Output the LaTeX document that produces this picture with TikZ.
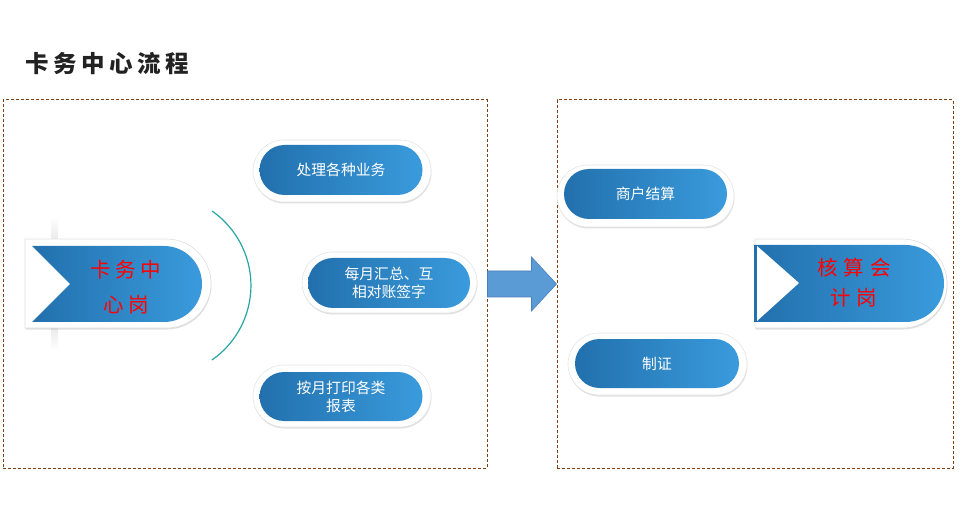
\documentclass[tikz,border=0pt]{standalone}
\usepackage{fontspec}
\setmainfont{Noto Sans CJK SC}
\usetikzlibrary{shapes.misc,shadows,calc}
\definecolor{bluedark}{HTML}{2270AD}
\definecolor{bluelight}{HTML}{3A9BDC}
\definecolor{brownd}{HTML}{7F3F12}
\definecolor{tealc}{HTML}{26A6A4}
\definecolor{arrowblue}{HTML}{5B9BD5}
\definecolor{arrowedge}{HTML}{4A7EBB}
\definecolor{titlec}{HTML}{222222}
\begin{document}
\begin{tikzpicture}[x=1pt,y=-1pt,
  pillout/.style={rounded rectangle, fill=white, draw=gray!20, line width=0.6pt,
    drop shadow={shadow xshift=0.5pt, shadow yshift=-1.5pt, opacity=0.3, fill=gray!80},
    inner sep=0pt},
  pillin/.style={rounded rectangle, left color=bluedark, right color=bluelight, draw=none,
    text=white, font=\fontsize{14.8}{18}\selectfont, align=center, inner sep=0pt},
  boxd/.style={rectangle, draw=brownd, dash pattern=on 3pt off 2pt, line width=1pt, inner sep=0pt},
  ribtext/.style={text=red, align=center, inner sep=0pt},
  ribout/.style={fill=white, draw=gray!25, line width=0.6pt,
    drop shadow={shadow xshift=0.5pt, shadow yshift=-1.5pt, opacity=0.3, fill=gray!80}},
  ribbody/.style={left color=bluedark, right color=bluelight, draw=none}
]
\useasboundingbox (0,0) rectangle (963,526);

% title
\node[anchor=west, inner sep=0pt, text=titlec, font=\bfseries\fontsize{23.5}{28}\selectfont] (title) at (25,64)
  {卡\hspace{4.5pt}务\hspace{4.5pt}中\hspace{4.5pt}心\hspace{4.5pt}流\hspace{4.5pt}程};

% dashed boxes
\node[boxd, minimum width=484pt, minimum height=368pt] (lbox) at (245,284) {};
\node[boxd, minimum width=396pt, minimum height=368pt] (rbox) at (755,284) {};

% big arrow
\filldraw[fill=arrowblue, draw=arrowedge, line width=0.6pt]
  ($(lbox.east)+(0,-13)$) -- ($(rbox.west)+(-25,-13)$) -- ($(rbox.west)+(-25,-27)$)
  -- (rbox.west) -- ($(rbox.west)+(-25,27)$) -- ($(rbox.west)+(-25,13)$)
  -- ($(lbox.east)+(0,13)$) -- cycle;

% left ribbon
\shade[top color=white, bottom color=white, middle color=gray!50] (51,217) rectangle (58,350);
\path[ribout] (25,239) -- (166.5,239) arc[start angle=-90, end angle=90, radius=44.5] -- (25,328) -- cycle;
\shade[ribbody] (32,246) -- (164,246) arc[start angle=-90, end angle=90, radius=38] -- (32,322) -- (70,284) -- cycle;
\node[ribtext, font=\fontsize{20.5}{35}\selectfont] (kwz) at (126,287)
  {卡\hspace{4.5pt}务\hspace{4.5pt}中\\心\hspace{4.5pt}岗};

% arc
\draw[tealc, line width=1.2pt] (212,211) arc[start angle=-55.2, end angle=55.2, radius=90.7];

% left pills
\node[pillout, minimum width=178pt, minimum height=62pt] (p1o) at (342,171) {};
\node[pillin, minimum width=163pt, minimum height=50pt] (p1) at (341,170) {处理各种业务};
\node[pillout, minimum width=175pt, minimum height=61pt] (p2o) at (389.5,282.5) {};
\node[pillin, minimum width=162pt, minimum height=50pt] (p2) at (389,283) {每月汇总、互\\相对账签字};
\node[pillout, minimum width=178pt, minimum height=62pt] (p3o) at (342,396) {};
\node[pillin, minimum width=163pt, minimum height=49pt] (p3) at (341,396.5) {按月打印各类\\报表};

% right pills
\node[pillout, minimum width=177pt, minimum height=62pt] (p4o) at (645.5,196) {};
\node[pillin, minimum width=163pt, minimum height=50pt] (p4) at (645.5,194) {商户结算};
\node[pillout, minimum width=179pt, minimum height=62pt] (p5o) at (657.5,364) {};
\node[pillin, minimum width=164pt, minimum height=49pt] (p5) at (657,363.5) {制证};

% right ribbon
\path[ribout] (755,239) -- (902.5,239) arc[start angle=-90, end angle=90, radius=44.5] -- (755,328) -- cycle;
\shade[ribbody] (754,245) -- (905.5,245) arc[start angle=-90, end angle=90, radius=38.5] -- (754,322) -- cycle;
\fill[white] (757,246) -- (799,283) -- (757,321) -- cycle;
\node[ribtext, font=\fontsize{20.5}{30}\selectfont] (hsk) at (854,283)
  {核\hspace{6pt}算\hspace{6pt}会\\计\hspace{6pt}岗};
\end{tikzpicture}
\end{document}
